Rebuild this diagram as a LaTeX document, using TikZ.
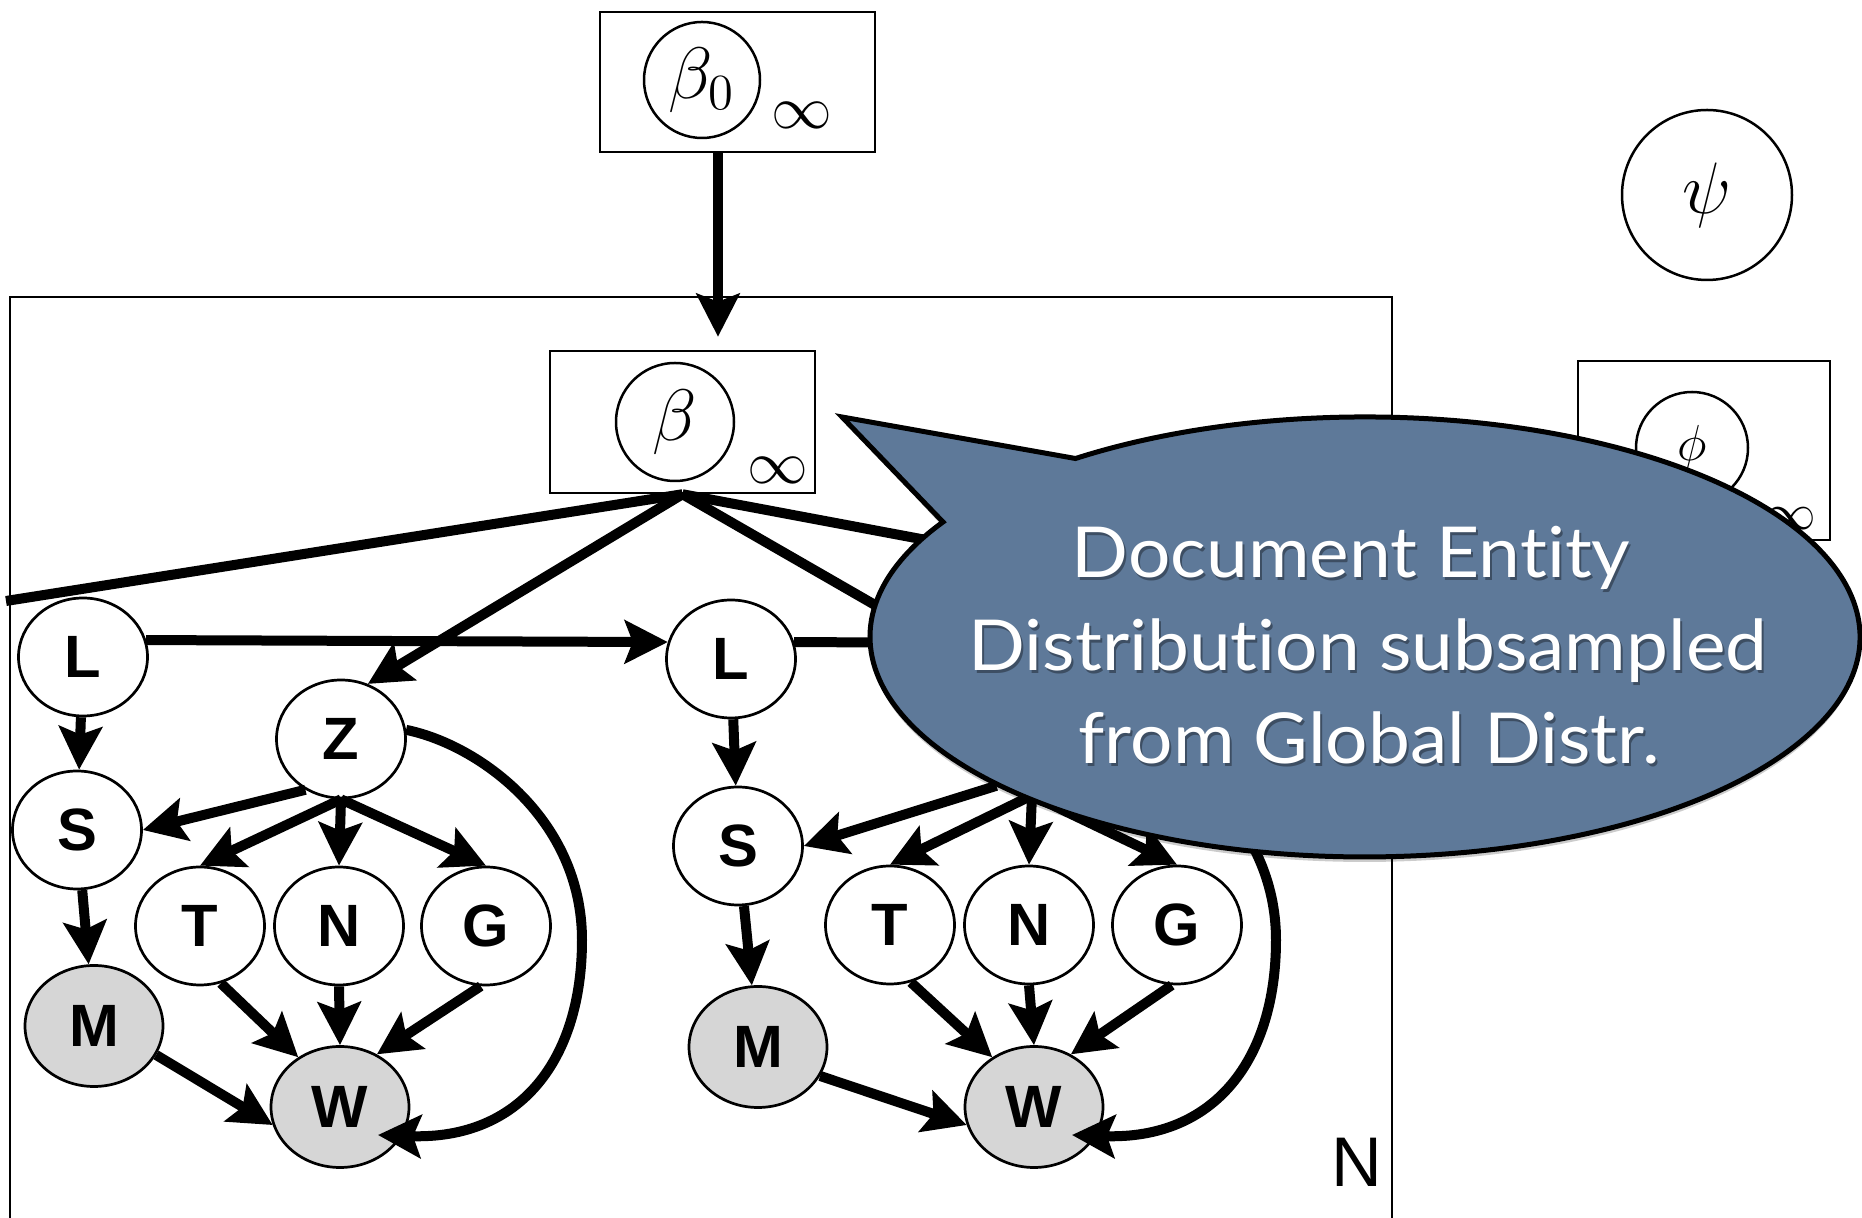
\documentclass[tikz,border=0pt]{standalone}
\usepackage{fontspec}
\newfontfamily\helv{Liberation Sans}
\newfontfamily\gill{Lato}[Ligatures=NoCommon, FakeStretch=1.065]
\usetikzlibrary{arrows.meta,shapes.geometric,calc}

\definecolor{obsgray}{RGB}{214,214,214}
\definecolor{bubble}{RGB}{94,121,153}

\tikzset{
  plate/.style={draw, line width=0.25mm, inner sep=0pt},
  var/.style={draw, ellipse, line width=0.27mm, fill=white, inner sep=0pt,
    minimum width=12.9mm, minimum height=11.8mm, font=\helv\bfseries\fontsize{17}{17}\selectfont},
  obs/.style={var, fill=obsgray, minimum width=13.8mm, minimum height=12.1mm},
  param/.style={draw, circle, line width=0.25mm, inner sep=0pt, font=\fontsize{21}{21}\selectfont},
  inf/.style={inner sep=0pt, font=\fontsize{16}{16}\selectfont},
  edge/.style={line width=1mm, -{Stealth[length=4.3mm, width=4.3mm, inset=0.8mm]}},
  link/.style={line width=1mm},
  bubbletext/.style={anchor=base, inner sep=0pt, text=white, font=\gill\fontsize{20}{20}\selectfont},
}

\begin{document}
\begin{tikzpicture}[x=0.1mm, y=-0.1mm]
    \useasboundingbox (0,0) rectangle (1862,1218);
    \clip (0,0) rectangle (1862,1218);

    % global parameters
    \node[plate, minimum width=27.5mm, minimum height=14mm] (b0plate) at (737.5,82) {};
    \node[param, minimum size=11.6mm] (b0) at (702,80) {$\beta_0$};
    \node[inf] (b0inf) at (802,115) {$\infty$};

    \node[param, minimum size=17mm] (psi) at (1707,195) {$\psi$};

    \node[plate, minimum width=25.2mm, minimum height=17.9mm] (phiplate) at (1704,450.5) {};
    \node[param, minimum size=11.2mm, font=\fontsize{15}{15}\selectfont] (phi) at (1692,448) {$\phi$};
    \node[inf, font=\fontsize{14}{14}\selectfont] (phiinf) at (1791,519) {$\infty$};

    % document plate
    \draw[plate] (10,1230) -- (10,297) -- (1392,297) -- (1392,1230);
    \node[inner sep=0pt, font=\helv\fontsize{20}{20}\selectfont] (Nlab) at (1357,1162) {N};

    \node[plate, minimum width=26.5mm, minimum height=14.2mm] (bplate) at (682.5,422) {};
    \node[param, minimum size=11.8mm] (b) at (675,422) {$\beta$};
    \node[inf] (binf) at (778,470) {$\infty$};

    \coordinate (drop) at (718,0);
    \draw[edge, shorten >=1.3mm] (b0plate.south -| drop) -- (bplate.north -| drop);

    % first word
    \node[var] (L1) at (83,657) {L};
    \node[var] (Z1) at (341,739) {Z};
    \node[var] (S1) at (77,830) {S};
    \node[var] (T1) at (200,926) {T};
    \node[var] (N1) at (339,926) {N};
    \node[var] (G1) at (486,926) {G};
    \node[obs] (M1) at (94,1026) {M};
    \node[obs] (W1) at (340,1107) {W};

    % second word
    \node[var] (L2) at (731,659) {L};
    \node[var] (Z2) at (1032,735) {Z};
    \node[var] (S2) at (738,846) {S};
    \node[var] (T2) at (890,925) {T};
    \node[var] (N2) at (1029,925) {N};
    \node[var] (G2) at (1177,925) {G};
    \node[obs] (M2) at (758,1047) {M};
    \node[obs] (W2) at (1034,1107) {W};

    \coordinate (prevZ) at (6,601);
    \coordinate (nextZ) at (1150,582);
    \coordinate (nextL) at (1000,643);

    \draw[link] (bplate.south) -- (prevZ);
    \draw[link] (bplate.south) -- (nextZ);
    \draw[edge] (bplate.south) -- (Z1.64);
    \draw[edge] (bplate.south) -- (Z2.116);
    \draw[edge] (L1.15) -- (L2.165);
    \draw[link] (L2.15) -- (nextL);

    \foreach \g in {1,2} {
      \draw[edge] (L\g) -- (S\g);
      \draw[edge] (S\g) -- (M\g);
      \draw[edge] (Z\g.235) -- (S\g.east);
      \draw[edge] (Z\g.south) -- (T\g.north);
      \draw[edge] (Z\g.south) -- (N\g.north);
      \draw[edge] (Z\g.south) -- (G\g.north);
      \draw[edge] (T\g.-70) -- (W\g.130);
      \draw[edge] (N\g.south) -- (W\g.north);
      \draw[edge] (G\g.-95) -- (W\g.55);
      \draw[edge] (M\g.-25) -- (W\g.195);
      \draw[edge] (Z\g.8) .. controls ($(W\g)+(140,-362)$) and ($(W\g)+(242,-287)$) .. ($(W\g)+(242,-167)$)
        .. controls ($(W\g)+(242,-47)$) and ($(W\g)+(180,33)$) .. ($(W\g)+(38,28)$);
    }

    % speech bubble
    \coordinate (tip) at (842,417);
    \fill[black, opacity=0.2, shift={(0,5)}] (943,522) arc[start angle=148.5, end angle=485.8, x radius=49.5mm, y radius=22mm] -- (tip) -- cycle;
    \filldraw[fill=bubble, draw=black, line width=0.5mm] (943,522) arc[start angle=148.5, end angle=485.8, x radius=49.5mm, y radius=22mm] -- (tip) -- cycle;

    \foreach \name/\x/\y/\s in {capa/1351/578/Document Entity, capb/1368/671/Distribution subsampled, capc/1369/764/from Global Distr.} {
      \node[bubbletext, text=black, opacity=0.35] (\name s) at (\x+2,\y+3) {\s};
      \node[bubbletext] (\name) at (\x,\y) {\s};
    }
\end{tikzpicture}
\end{document}
